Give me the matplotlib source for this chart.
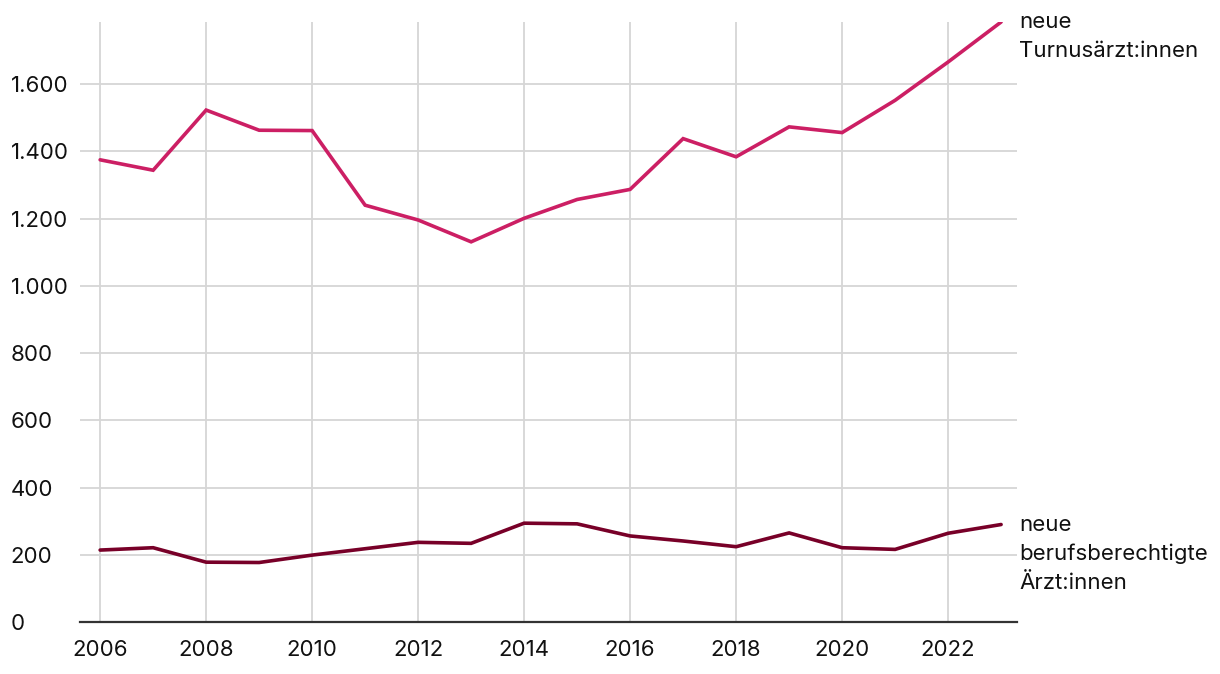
import matplotlib
matplotlib.use("Agg")
import matplotlib.pyplot as plt
from matplotlib.ticker import FuncFormatter, MultipleLocator

plt.rcParams['font.family'] = ['Inter', 'DejaVu Sans']

years = list(range(2006, 2024))
turnus = [1375, 1344, 1523, 1463, 1462, 1240, 1196, 1131, 1201, 1257, 1287, 1438, 1384, 1473, 1456, 1552, 1666, 1785]
berufs = [214, 221, 178, 177, 199, 218, 237, 234, 294, 292, 256, 241, 224, 265, 221, 216, 264, 290]
labels = ["neue\nTurnusärzt:innen", "neue\nberufsberechtigte\nÄrzt:innen"]
colors = ["#cc1f64", "#780028"]

fig = plt.figure(figsize=(12.2, 6.74), dpi=100)
W, H = 1220, 674
ax = fig.add_axes([80 / W, (H - 622) / H, (1017 - 80) / W, (622 - 22) / H])

for vals, lab, col in zip([turnus, berufs], labels, colors):
    ax.plot(years, vals, color=col, lw=2.6, solid_capstyle='round', solid_joinstyle='miter', zorder=3)
    ax.annotate(lab, xy=(years[-1], vals[-1]), xytext=(18, 10), textcoords='offset pixels',
                va='top', ha='left', fontsize=16, color='#111111', linespacing=1.55,
                annotation_clip=False)

ax.set_xlim(2005.62, 2023.3)
ax.set_ylim(0, 1785)
ax.xaxis.set_major_locator(MultipleLocator(2))
ax.yaxis.set_major_locator(MultipleLocator(200))
ax.yaxis.set_major_formatter(FuncFormatter(lambda v, p: f"{int(v):,}".replace(",", ".")))

ax.grid(True, color='#d6d6d6', lw=1.3, zorder=0)
ax.set_axisbelow(True)
for s in ['top', 'right', 'left']:
    ax.spines[s].set_visible(False)
ax.spines['bottom'].set_color('#333333')
ax.spines['bottom'].set_linewidth(1.6)

ax.tick_params(axis='both', length=0, labelsize=16, labelcolor='#111111')
ax.tick_params(axis='x', pad=13)
ax.tick_params(axis='y', pad=50)
for t in ax.get_yticklabels():
    t.set_horizontalalignment('left')

fig.savefig("out.png", dpi=100)
